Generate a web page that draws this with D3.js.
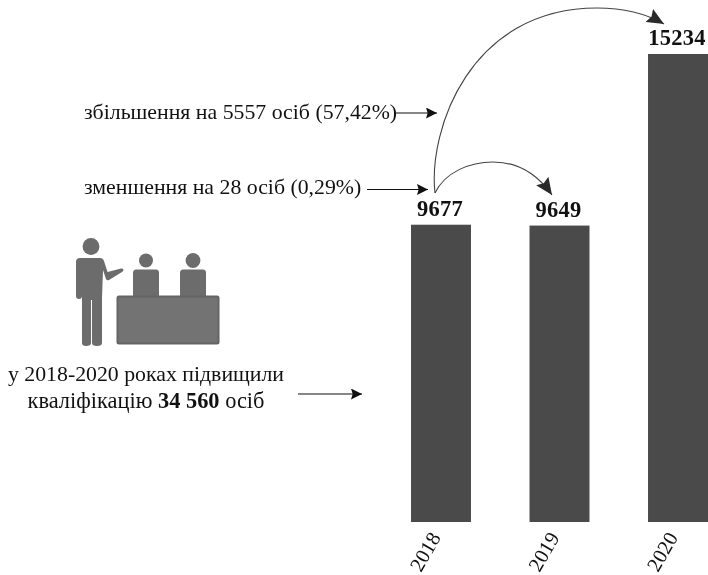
<!DOCTYPE html>
<html><head><meta charset="utf-8">
<script src="https://cdn.jsdelivr.net/npm/d3@7"></script>
<style>html,body{margin:0;padding:0;background:#fff}svg{display:block;filter:blur(.45px)}text{font-family:"Liberation Serif",serif;fill:#111}</style>
</head><body><svg id="c" width="708" height="575"></svg>
<script>
const years = ["2018","2019","2020"];
const people = [9677,9649,15234];
const svg = d3.select("#c");
const x = d3.scaleBand().domain(years).range([411,708]).paddingInner(0.494).paddingOuter(0);
const y = d3.scaleLinear().domain([0,15234]).range([522,54]);
const defs = svg.append("defs");
function marker(id,w,h,fill){
  defs.append("marker").attr("id",id).attr("viewBox","0 0 10 10").attr("refX",10).attr("refY",5)
    .attr("markerUnits","userSpaceOnUse").attr("markerWidth",w).attr("markerHeight",h).attr("orient","auto")
    .attr("preserveAspectRatio","none")
    .append("path").attr("d","M0,0L10,5L0,10L1.5,5Z").attr("fill",fill);
}
marker("a",11,11,"#111");
marker("b",17,15,"#2a2a2a");

svg.append("g").selectAll("rect").data(years).join("rect")
  .attr("x",d=>x(d)).attr("width",x.bandwidth())
  .attr("y",(d,i)=>y(people[i])).attr("height",(d,i)=>y(0)-y(people[i]))
  .attr("fill","#4a4a4a");

svg.append("g").selectAll("text").data(years).join("text")
  .attr("x",(d,i)=>x(d)+x.bandwidth()/2-1).attr("y",(d,i)=>y(people[i])-9)
  .attr("text-anchor","middle").attr("font-size",22.5).attr("font-weight","bold").attr("letter-spacing",0.3)
  .text((d,i)=>people[i]);

svg.append("g").selectAll("text").data(years).join("text")
  .attr("transform",d=>`translate(${x(d)+x.bandwidth()/2-20},573) rotate(-60)`)
  .attr("font-size",20.5).text(d=>d);

// curved arrows
svg.append("path").attr("d","M435,193C445,172 470,162 493,162C518,162 538,175 552,195")
  .attr("fill","none").attr("stroke","#444").attr("stroke-width",1.1).attr("marker-end","url(#b)");
svg.append("path").attr("d","M435,193C428,130 470,8 597,8C622,8 645,13 664,24")
  .attr("fill","none").attr("stroke","#444").attr("stroke-width",1.1).attr("marker-end","url(#b)");

// straight arrows
const straight = [[396,113,437,113],[367,189.5,428,189.5],[298,394,362,394]];
svg.append("g").selectAll("line").data(straight).join("line")
  .attr("x1",d=>d[0]).attr("y1",d=>d[1]).attr("x2",d=>d[2]).attr("y2",d=>d[3])
  .attr("stroke","#111").attr("stroke-width",1.2).attr("marker-end","url(#a)");

// labels
svg.append("text").attr("x",84).attr("y",118.5).attr("font-size",21.8).text("збільшення на 5557 осіб (57,42%)");
svg.append("text").attr("x",84).attr("y",194).attr("font-size",21.8).text("зменшення на 28 осіб (0,29%)");
svg.append("text").attr("x",146).attr("y",380.5).attr("text-anchor","middle").attr("font-size",21.8).text("у 2018-2020 роках підвищили");
const t = svg.append("text").attr("x",146).attr("y",408).attr("text-anchor","middle").attr("font-size",22.4);
t.append("tspan").text("кваліфікацію ");
t.append("tspan").attr("font-weight","bold").text("34 560");
t.append("tspan").text(" осіб");

// icon
const ic = svg.append("g").attr("fill","#6c6c6c");
ic.append("circle").attr("cx",91).attr("cy",246.5).attr("r",8.4);
ic.append("path").attr("d","M80,258H100Q103,258 104,261L107.5,272L121,268.5Q123.5,268 123.5,270Q123.5,271 122,272L109,280Q107,281 106,279L103,270L102,298V343Q102,346 97,346Q92,346 92,343V300H91V343Q91,346 86,346Q82,346 82,343V296Q82,299 79,299Q76,299 76,296V262Q76,258 80,258Z");
ic.append("circle").attr("cx",146).attr("cy",260.5).attr("r",7);
ic.append("path").attr("d","M136,269.5H156Q159,269.5 159,273V296H133V273Q133,269.5 136,269.5Z");
ic.append("circle").attr("cx",193).attr("cy",260.5).attr("r",7.4);
ic.append("path").attr("d","M183,269.5H203Q206,269.5 206,273V296H180V273Q180,269.5 183,269.5Z");
svg.append("rect").attr("x",117.5).attr("y",296.5).attr("width",101).attr("height",47).attr("rx",1.5)
  .attr("fill","#737373").attr("stroke","#646464").attr("stroke-width",2);
</script></body></html>
